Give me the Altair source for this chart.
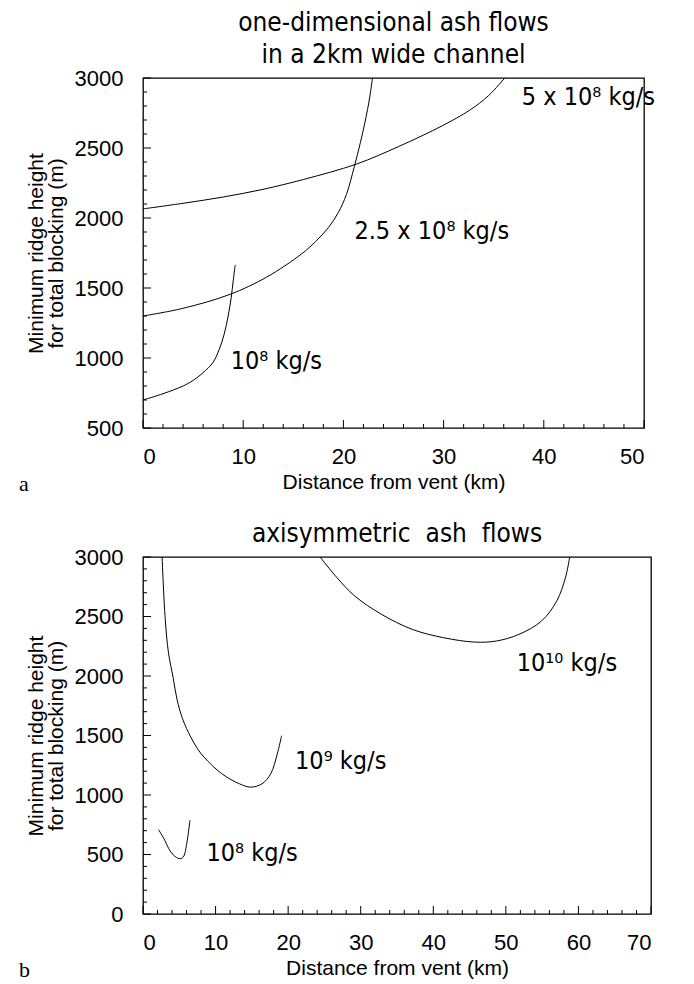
import altair as alt
import pandas as pd

# ---------------- Panel a: one-dimensional ash flows ----------------
a_series = ["10⁸ kg/s", "2.5 x 10⁸ kg/s", "5 x 10⁸ kg/s"]
a_x_1 = [0, 2, 4, 5, 6, 7, 7.6, 8.1, 8.5, 8.8, 9.0, 9.2]
a_y_1 = [700, 745, 800, 840, 895, 970, 1060, 1170, 1300, 1430, 1550, 1665]
a_x_2 = [0, 4, 8.7, 12.3, 15.8, 17.2, 18.5, 19.5, 20.3, 21.1, 21.7, 22.2, 22.6, 22.9]
a_y_2 = [1300, 1355, 1455, 1576, 1742, 1830, 1931, 2040, 2168, 2370, 2540, 2700, 2850, 3000]
a_x_3 = [0, 4, 8, 12, 16, 21.3, 25.5, 29.9, 32.6, 34.5, 36.1]
a_y_3 = [2065, 2105, 2150, 2205, 2275, 2385, 2510, 2660, 2770, 2875, 3000]

a_lab_text = ["5 x 10⁸ kg/s", "2.5 x 10⁸ kg/s", "10⁸ kg/s"]
a_lab_x = [37.8, 21.1, 8.75]
a_lab_y = [2865, 1907, 979]

a_x_major = [0, 10, 20, 30, 40, 50]
a_x_minor = [2, 4, 6, 8, 12, 14, 16, 18, 22, 24, 26, 28, 32, 34, 36, 38, 42, 44, 46, 48]
a_y_major = [500, 1000, 1500, 2000, 2500, 3000]
a_y_minor = [600, 700, 800, 900, 1100, 1200, 1300, 1400, 1600, 1700, 1800, 1900,
             2100, 2200, 2300, 2400, 2600, 2700, 2800, 2900]

# ---------------- Panel b: axisymmetric ash flows ----------------
b_series = ["10⁸ kg/s", "10⁹ kg/s", "10¹⁰ kg/s"]
b_x_1 = [2.14, 3.0, 3.54, 4.2, 4.95, 5.4, 5.68, 6.1, 6.47]
b_y_1 = [709, 620, 550, 495, 466, 470, 494, 620, 787]
b_x_2 = [2.63, 3.05, 3.5, 4.15, 4.7, 5.38, 6.0, 6.6, 7.5, 8.43, 10.87, 13.3, 14.84,
         16.4, 17.6, 18.5, 19.1]
b_y_2 = [3000, 2489, 2200, 1987, 1800, 1652, 1560, 1485, 1390, 1317, 1178, 1094, 1066,
         1094, 1178, 1345, 1498]
b_x_3 = [24.4, 26.76, 29.2, 32.9, 37.1, 41.4, 45.7, 48.7, 51.8, 54.9, 57, 58.2, 58.8]
b_y_3 = [3000, 2824, 2671, 2517, 2392, 2322, 2285, 2294, 2350, 2461, 2629, 2824, 3000]

b_lab_text = ["10¹⁰ kg/s", "10⁹ kg/s", "10⁸ kg/s"]
b_lab_x = [51.5, 20.95, 8.74]
b_lab_y = [2112, 1286, 515]

b_x_major = [0, 10, 20, 30, 40, 50, 60, 70]
b_x_minor = [2, 4, 6, 8, 12, 14, 16, 18, 22, 24, 26, 28, 32, 34, 36, 38, 42, 44, 46, 48,
             52, 54, 56, 58, 62, 64, 66, 68]
b_y_major = [0, 500, 1000, 1500, 2000, 2500, 3000]
b_y_minor = [100, 200, 300, 400, 600, 700, 800, 900, 1100, 1200, 1300, 1400,
             1600, 1700, 1800, 1900, 2100, 2200, 2300, 2400, 2600, 2700, 2800, 2900]

NARROW = "Liberation Sans Narrow, DejaVu Sans Condensed, Roboto Condensed, Liberation Sans"
SANS = "Liberation Sans, Arial, Helvetica"
SERIF = "Liberation Serif, Times New Roman"


def curves_df(series, xs, ys):
    rows = []
    for s, xl, yl in zip(series, xs, ys):
        for i, (x, y) in enumerate(zip(xl, yl)):
            rows.append({"series": s, "i": i, "x": x, "y": y})
    return pd.DataFrame(rows)


def panel(curves, lab_text, lab_x, lab_y, xdom, ydom, w, h,
          x_major, x_minor, y_major, y_minor, title, letter):
    xaxis = alt.Axis(values=x_major, title="Distance from vent (km)", ticks=False,
                     domain=False, grid=False, labelFont=SANS, labelFontSize=22,
                     labelPadding=18, labelColor="black", titleFont=SANS,
                     titleFontSize=21, titleFontWeight="normal", titleColor="black",
                     titlePadding=4, format="d")
    yaxis = alt.Axis(values=y_major, title=["Minimum ridge height", "for total blocking (m)"],
                     ticks=False, domain=False, grid=False, labelFont=SANS,
                     labelFontSize=22, labelPadding=20, labelColor="black",
                     titleFont=SANS, titleFontSize=21, titleFontWeight="normal",
                     titleColor="black", titlePadding=8, titleLineHeight=20, format="d")

    def X(f):
        return alt.X(f, type="quantitative", scale=alt.Scale(domain=xdom, nice=False, zero=False), axis=xaxis)

    def Y(f):
        return alt.Y(f, type="quantitative", scale=alt.Scale(domain=ydom, nice=False, zero=False), axis=yaxis)

    lines = alt.Chart(curves).mark_line(color="black", strokeWidth=1, interpolate="catmull-rom",
                                        clip=True).encode(
        x=X("x"), y=Y("y"), detail="series:N", order="i:Q")

    xmin_df = pd.DataFrame({"x": x_minor})
    xmaj_df = pd.DataFrame({"x": x_major})
    ymin_df = pd.DataFrame({"y": y_minor})
    ymaj_df = pd.DataFrame({"y": y_major})

    t_xmin = alt.Chart(xmin_df).mark_rule(color="black", strokeWidth=1).encode(
        x=X("x"), y=alt.value(h), y2=alt.value(h - 4))
    t_xmaj = alt.Chart(xmaj_df).mark_rule(color="black", strokeWidth=1).encode(
        x=X("x"), y=alt.value(h), y2=alt.value(h - 8))
    t_ymin = alt.Chart(ymin_df).mark_rule(color="black", strokeWidth=1).encode(
        y=Y("y"), x=alt.value(0), x2=alt.value(4))
    t_ymaj = alt.Chart(ymaj_df).mark_rule(color="black", strokeWidth=1).encode(
        y=Y("y"), x=alt.value(0), x2=alt.value(8))

    lab_df = pd.DataFrame({"t": lab_text, "x": lab_x, "y": lab_y})
    labels = alt.Chart(lab_df).mark_text(align="left", baseline="middle", font=NARROW,
                                         fontSize=25, color="black").encode(
        x=X("x"), y=Y("y"), text="t:N")

    let_df = pd.DataFrame({"t": [letter]})
    let_text = alt.Chart(let_df).mark_text(align="left", baseline="middle", font=SERIF,
                                           fontSize=22, color="black").encode(
        x=alt.value(-124), y=alt.value(h + 56), text="t:N")

    return alt.layer(lines, t_xmin, t_xmaj, t_ymin, t_ymaj, labels, let_text).properties(
        width=w, height=h,
        title=alt.TitleParams(title, font=NARROW, fontSize=26, fontWeight="normal",
                              anchor="middle", lineHeight=32, offset=-1, color="black"))


a_curves = curves_df(a_series, [a_x_1, a_x_2, a_x_3], [a_y_1, a_y_2, a_y_3])
b_curves = curves_df(b_series, [b_x_1, b_x_2, b_x_3], [b_y_1, b_y_2, b_y_3])

pa = panel(a_curves, a_lab_text, a_lab_x, a_lab_y, [0, 50], [500, 3000], 501, 350,
           a_x_major, a_x_minor, a_y_major, a_y_minor,
           ["one-dimensional ash flows", "in a 2km wide channel"], "a")
pb = panel(b_curves, b_lab_text, b_lab_x, b_lab_y, [0, 70], [0, 3000], 508, 357,
           b_x_major, b_x_minor, b_y_major, b_y_minor,
           "axisymmetric\u00a0 ash\u00a0 flows", "b")

chart = alt.vconcat(pa, pb, spacing=24).properties(
    padding={"left": 10, "top": 1, "right": 5, "bottom": 0}
).configure(background="white").configure_view(stroke="black", strokeWidth=1.3)

chart.save("out.html", embed_options={"renderer": "svg", "actions": False})
